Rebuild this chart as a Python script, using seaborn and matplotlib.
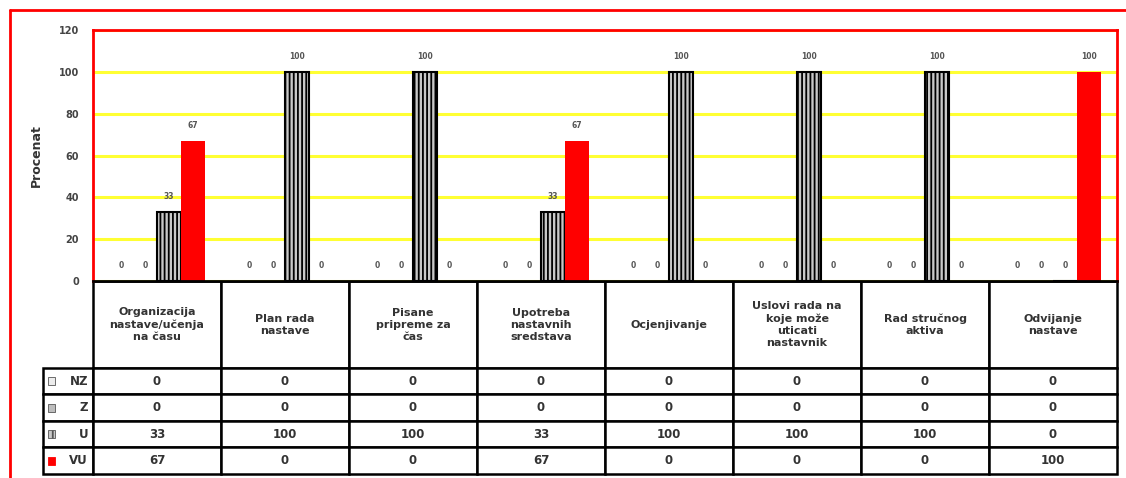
import matplotlib.pyplot as plt
import seaborn as sns
import pandas as pd
from matplotlib.lines import Line2D
from matplotlib.patches import Rectangle

# categories (column headers of the data table)
categories = [
    "Organizacija\nnastave/učenja\nna času",
    "Plan rada\nnastave",
    "Pisane\npripreme za\nčas",
    "Upotreba\nnastavnih\nsredstava",
    "Ocjenjivanje",
    "Uslovi rada na\nkoje može\nuticati\nnastavnik",
    "Rad stručnog\naktiva",
    "Odvijanje\nnastave",
]
series = ["NZ", "Z", "U", "VU"]
nz = [0, 0, 0, 0, 0, 0, 0, 0]
z = [0, 0, 0, 0, 0, 0, 0, 0]
u = [33, 100, 100, 33, 100, 100, 100, 0]
vu = [67, 0, 0, 67, 0, 0, 0, 100]
yticks = [0, 20, 40, 60, 80, 100, 120]

values = {"NZ": nz, "Z": z, "U": u, "VU": vu}
rows = []
for s in series:
    for c, v in zip(categories, values[s]):
        rows.append({"Kategorija": c, "Ocjena": s, "Procenat": v})
df = pd.DataFrame(rows)

sns.set_style("white")
plt.rcParams["font.family"] = ["DejaVu Sans"]
plt.rcParams["hatch.linewidth"] = 1.3

fig = plt.figure(figsize=(11.26, 4.78), dpi=100)
ax = fig.add_axes([93 / 1126, 1 - 281 / 478, 1024 / 1126, 251 / 478])

palette = {"NZ": "#d9d9d9", "Z": "#a6a6a6", "U": "#c8c8c8", "VU": "#ff0000"}
sns.barplot(data=df, x="Kategorija", y="Procenat", hue="Ocjena",
            order=categories, hue_order=series, palette=palette,
            width=0.75, gap=0, saturation=1, ax=ax, legend=False)

for s, cont in zip(series, ax.containers):
    for bar in cont:
        if s == "U":
            bar.set_hatch("||||")
            bar.set_edgecolor("black")
            bar.set_linewidth(1.5)
        elif s == "VU":
            bar.set_edgecolor("#ff0000")
            bar.set_linewidth(0)
        else:
            bar.set_edgecolor("black")
            bar.set_linewidth(0)
    ax.bar_label(cont, labels=[f"{v:g}" for v in values[s]], padding=8,
                 fontsize=5.5, color="#555555", fontweight="bold")

ax.set_ylim(0, 120)
ax.set_yticks(yticks)
ax.set_xlim(-0.5, len(categories) - 0.5)
ax.grid(axis="y", color="#ffff33", linewidth=2.2)
ax.grid(axis="x", visible=False)
ax.set_axisbelow(True)
ax.tick_params(axis="y", length=0, pad=10, labelsize=7, labelcolor="#444444")
ax.tick_params(axis="x", length=0, labelbottom=False)
for lbl in ax.get_yticklabels():
    lbl.set_fontweight("bold")
ax.set_xlabel("")
ax.set_ylabel("Procenat", fontsize=9, fontweight="bold", color="#333333")
ax.yaxis.set_label_coords(-0.049, 0.5)
for side in ["left", "top", "right"]:
    ax.spines[side].set_color("#ff0000")
    ax.spines[side].set_linewidth(2)
ax.spines["bottom"].set_color("black")
ax.spines["bottom"].set_linewidth(2)

# data table below the chart
cell_text = [[""] + categories]
for s in series:
    cell_text.append([s] + [f"{v:g}" for v in values[s]])

tx0, tw = -50 / 1024, 1074 / 1024
ty0, th = -193 / 251, 193 / 251
tbl = ax.table(cellText=cell_text, cellLoc="center",
               bbox=[tx0, ty0, tw, th])
tbl.auto_set_font_size(False)
tbl.set_fontsize(8.5)
row_h = [87, 26.5, 26.5, 26.5, 26.5]
for (r, c), cell in tbl.get_celld().items():
    cell.set_width(50 if c == 0 else 128)
    cell.set_height(row_h[r])
    cell.set_linewidth(1.8)
    cell.set_edgecolor("black")
    cell.get_text().set_fontweight("bold")
    cell.get_text().set_color("#333333")
    if r == 0 and c == 0:
        cell.visible_edges = ""
    if c == 0 and r > 0:
        cell.get_text().set_ha("right")
        cell._loc = "right"
    if r == 0:
        cell.get_text().set_fontsize(8)
        cell.get_text().set_linespacing(1.25)

# legend keys inside the row label cells
key_colors = {"NZ": "#ececec", "Z": "#bdbdbd", "U": "#c8c8c8", "VU": "#ff0000"}
for i, s in enumerate(series):
    yc = ty0 + th * (1 - (87 + (i + 0.5) * 26.5) / 193)
    xk = tx0 + 5 / 1024
    key = Rectangle((xk, yc - 4 / 251), 7 / 1024, 8 / 251,
                    transform=ax.transAxes, clip_on=False,
                    facecolor=key_colors[s],
                    edgecolor="#ff0000" if s == "VU" else "#555555",
                    linewidth=0.6, hatch="|||" if s == "U" else None)
    ax.add_patch(key)

# outer red frame
fig.add_artist(Line2D([10 / 1126, 10 / 1126], [0, 1 - 10 / 478],
                      transform=fig.transFigure, color="#ff0000", lw=2))
fig.add_artist(Line2D([10 / 1126, 1], [1 - 10 / 478, 1 - 10 / 478],
                      transform=fig.transFigure, color="#ff0000", lw=2))

fig.savefig("out.png", dpi=100)
